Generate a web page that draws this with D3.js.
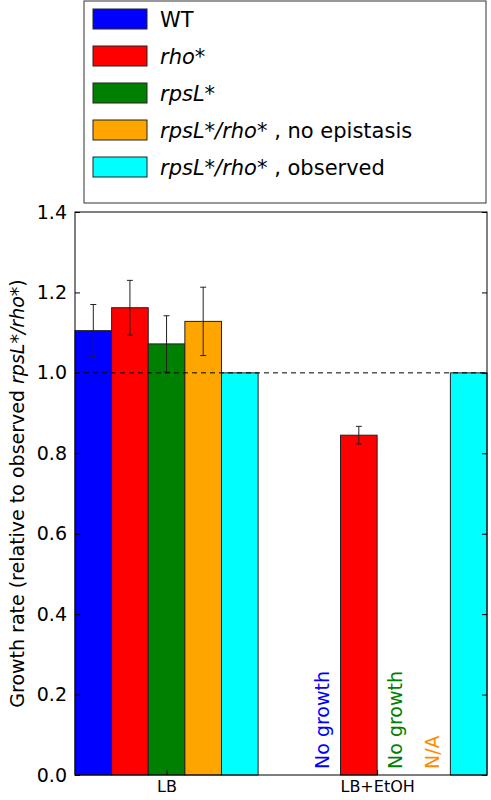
<!DOCTYPE html>
<html><head><meta charset="utf-8">
<script src="https://cdn.jsdelivr.net/npm/d3@7"></script>
<style>body{margin:0;background:#fff}text{font-family:"DejaVu Sans",sans-serif}</style>
</head><body><div id="chart"></div>
<script>
// data
const groups = ["LB", "LB+EtOH"];
const series = ["WT", "rho*", "rpsL*", "rpsL*/rho* , no epistasis", "rpsL*/rho* , observed"];
const colors = ["#0000ff", "#ff0000", "#008000", "#ffa500", "#00ffff"];
const valuesLB = [1.105, 1.162, 1.072, 1.128, 1.0];
const errorsLB = [0.065, 0.068, 0.07, 0.085, 0];
const valuesEtOH = [null, 0.845, null, null, 1.0];
const errorsEtOH = [0, 0.022, 0, 0, 0];
const notes = [{slot: 0, text: "No growth", color: "#0000ff"},
               {slot: 2, text: "No growth", color: "#008000"},
               {slot: 3, text: "N/A", color: "#ff8c00"}];
const yTicks = [0, 0.2, 0.4, 0.6, 0.8, 1.0, 1.2, 1.4];
const groupStart = [0, 6.25];

const W = 491, H = 800;
const margin = {left: 75, right: 4, top: 212, bottom: 25};
const svg = d3.select("#chart").append("svg").attr("width", W).attr("height", H);

const x = d3.scaleLinear().domain([0, 11.25]).range([margin.left, W - margin.right]);
const y = d3.scaleLinear().domain([0, 1.4]).range([H - margin.bottom, margin.top]);

const bars = [];
[valuesLB, valuesEtOH].forEach((vals, g) => {
    vals.forEach((v, i) => {
        if (v == null) return;
        bars.push({x0: groupStart[g] + i, v, e: [errorsLB, errorsEtOH][g][i], c: colors[i]});
    });
});

svg.selectAll("rect.bar").data(bars).enter().append("rect")
    .attr("x", d => x(d.x0)).attr("width", x(1) - x(0))
    .attr("y", d => y(d.v)).attr("height", d => y(0) - y(d.v))
    .attr("fill", d => d.c).attr("stroke", "#222").attr("stroke-width", 1);

// error bars
const eb = svg.selectAll("g.err").data(bars.filter(d => d.e > 0)).enter().append("g")
    .attr("stroke", "#222").attr("stroke-width", 1);
eb.append("line").attr("x1", d => x(d.x0 + 0.5)).attr("x2", d => x(d.x0 + 0.5))
    .attr("y1", d => y(d.v - d.e)).attr("y2", d => y(d.v + d.e));
[-1, 1].forEach(s => eb.append("line")
    .attr("x1", d => x(d.x0 + 0.5) - 3).attr("x2", d => x(d.x0 + 0.5) + 3)
    .attr("y1", d => y(d.v + s * d.e)).attr("y2", d => y(d.v + s * d.e)));

// dashed reference line
svg.append("line").attr("x1", x(0)).attr("x2", x(11.25)).attr("y1", y(1)).attr("y2", y(1))
    .attr("stroke", "#000").attr("stroke-dasharray", "5,4");

// notes
svg.selectAll("text.note").data(notes).enter().append("text")
    .attr("transform", d => `translate(${x(groupStart[1] + d.slot + 0.5) + 7},${y(0) - 6}) rotate(-90)`)
    .attr("fill", d => d.color).attr("font-size", 19).text(d => d.text);

// frame
svg.append("rect").attr("x", x(0)).attr("y", y(1.4)).attr("width", x(11.25) - x(0))
    .attr("height", y(0) - y(1.4)).attr("fill", "none").attr("stroke", "#000");

// axes
const yAxis = svg.append("g").attr("transform", `translate(${x(0)},0)`)
    .call(d3.axisLeft(y).tickValues(yTicks).tickFormat(d3.format(".1f")).tickSize(-5).tickPadding(8));
yAxis.select(".domain").remove();
yAxis.selectAll("text").attr("font-size", 19).attr("fill", "#000");
const yAxisR = svg.append("g").attr("transform", `translate(${x(11.25)},0)`)
    .call(d3.axisRight(y).tickValues(yTicks).tickSize(-5).tickFormat(""));
yAxisR.select(".domain").remove();

const xt = [groupStart[0] + 2.5, groupStart[1] + 2];
const xAxis = svg.append("g").attr("transform", `translate(0,${y(0)})`)
    .call(d3.axisBottom(x).tickValues(xt).tickFormat((d, i) => groups[i]).tickSize(-5).tickPadding(6));
xAxis.select(".domain").remove();
xAxis.selectAll("text").attr("font-size", 16).attr("fill", "#000");

// y label
const yl = svg.append("text").attr("transform", `translate(24,${(y(0) + y(1.4)) / 2}) rotate(-90)`)
    .attr("text-anchor", "middle").attr("font-size", 19);
yl.append("tspan").text("Growth rate (relative to observed ");
yl.append("tspan").attr("font-style", "italic").text("rpsL*/rho*");
yl.append("tspan").text(")");

// legend
const lg = svg.append("g");
lg.append("rect").attr("x", 84).attr("y", 1).attr("width", 402).attr("height", 202)
    .attr("fill", "#fff").attr("stroke", "#333");
series.forEach((s, i) => {
    const yy = 19 + i * 37;
    lg.append("rect").attr("x", 93).attr("y", yy - 10).attr("width", 54).attr("height", 20)
        .attr("fill", colors[i]).attr("stroke", "#222");
    const t = lg.append("text").attr("x", 160).attr("y", yy + 8).attr("font-size", 21);
    const parts = s.split(" , ");
    t.append("tspan").attr("font-style", i === 0 ? "normal" : "italic").text(parts[0]);
    if (parts[1]) t.append("tspan").text(" , " + parts[1]);
});
</script></body></html>
